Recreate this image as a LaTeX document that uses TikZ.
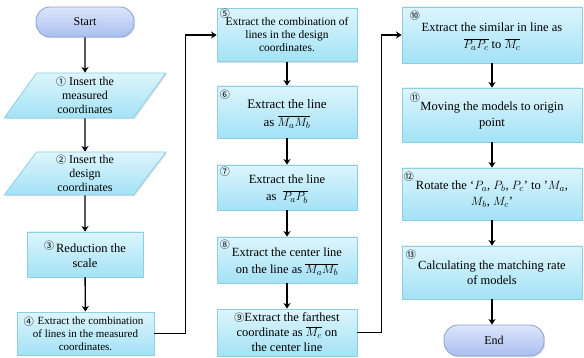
\documentclass[tikz,border=0pt]{standalone}
\usepackage{fontspec}
\setmainfont{Liberation Serif}
\newfontfamily\circfont{Noto Sans CJK JP}
\usetikzlibrary{shapes.geometric,shadows,arrows.meta}
\definecolor{boxtop}{HTML}{DDF5FC}
\definecolor{boxbot}{HTML}{A3E2F6}
\definecolor{boxline}{HTML}{8CCFE4}
\definecolor{termtop}{HTML}{DCE5FA}
\definecolor{termbot}{HTML}{AABFF0}
\definecolor{termline}{HTML}{8AA2DA}
\newcommand{\cn}[1]{{\circfont\fontsize{10}{10}\selectfont #1}}
\tikzset{
  shade/.style={drop shadow={shadow xshift=1.2pt, shadow yshift=-1.2pt, opacity=0.25}},
  procbox/.style={rectangle, draw=boxline, line width=0.8pt, top color=boxtop, bottom color=boxbot,
    shade, inner sep=0pt, align=center, font=\fontsize{12}{15}\selectfont},
  parabox/.style={trapezium, trapezium left angle=62, trapezium right angle=118, trapezium stretches=true,
    draw=boxline, line width=0.8pt, top color=boxtop, bottom color=boxbot,
    shade, inner sep=0pt, align=center, font=\fontsize{12}{14}\selectfont},
  termbox/.style={rectangle, rounded corners=14pt, draw=termline, line width=0.8pt, top color=termtop,
    bottom color=termbot, shade, inner sep=0pt, font=\fontsize{12}{13}\selectfont},
  numlbl/.style={inner sep=0pt, anchor=north west, font=\circfont\fontsize{10}{10}\selectfont},
  flow/.style={line width=1.4pt, -{Stealth[length=5.5pt,width=7pt,inset=1.5pt]}},
}
\begin{document}
\begin{tikzpicture}[x=1pt,y=-1pt]
\useasboundingbox (0,0) rectangle (584,358);

% column 1
\node[termbox, minimum width=98, minimum height=30] (start) at (85,22) {Start};
\node[parabox, minimum width=162, minimum height=45] (b1) at (85,95.5)
  {\cn{①} Insert the\\measured\\coordinates};
\node[parabox, minimum width=162, minimum height=43] (b2) at (85,173.5)
  {\cn{②} Insert the\\design\\coordinates};
\node[procbox, minimum width=116, minimum height=45, font=\fontsize{12.5}{15}\selectfont] (b3) at (85,254.5)
  {\raisebox{3pt}{\cn{③}}\,Reduction the\\scale};
\node[procbox, minimum width=137, minimum height=43, font=\fontsize{11}{13}\selectfont] (b4) at (85.5,333.5)
  {\hspace*{10pt}Extract the combination\\of lines in the measured\\coordinates.};
\node[numlbl] (n4) at ([xshift=7pt,yshift=-5pt]b4.north west) {④};

% column 2
\node[procbox, minimum width=140, minimum height=53, font=\fontsize{11.5}{13}\selectfont] (b5) at (287,35)
  {Extract the combination of\\lines in the design\\coordinates.};
\node[numlbl] (n5) at ([xshift=3pt,yshift=-1pt]b5.north west) {⑤};
\node[procbox, minimum width=140, minimum height=52, font=\fontsize{13}{18}\selectfont] (b6) at (287,112)
  {\strut Extract the line\\as $\overline{M_aM_b}$};
\node[numlbl] (n6) at ([xshift=3pt,yshift=-4pt]b6.north west) {⑥};
\node[procbox, minimum width=140, minimum height=45, font=\fontsize{12.5}{17}\selectfont] (b7) at (287,187.5)
  {\strut Extract the line\\as \ $\overline{P_aP_b}$};
\node[numlbl] (n7) at ([xshift=3pt,yshift=-2pt]b7.north west) {⑦};
\node[procbox, minimum width=140, minimum height=46, font=\fontsize{12.5}{17}\selectfont] (b8) at (287,260)
  {\strut Extract the center line\\on the line as $\overline{M_aM_b}$};
\node[numlbl] (n8) at ([xshift=3pt,yshift=-3pt]b8.north west) {⑧};
\node[procbox, minimum width=140, minimum height=47, font=\fontsize{12.5}{15}\selectfont] (b9) at (287,332.5)
  {\cn{⑨}Extract the farthest\\coordinate as $\overline{M_c}$ on\\the center line};

% column 3
\node[procbox, minimum width=180, minimum height=56, font=\fontsize{12.5}{17}\selectfont] (b10) at (492,35)
  {\strut Extract the similar in line as\\$\overline{P_aP_c}$ to $\overline{M_c}$};
\node[numlbl] (n10) at ([xshift=8pt,yshift=-4pt]b10.north west) {⑩};
\node[procbox, minimum width=180, minimum height=54, font=\fontsize{12.5}{16}\selectfont] (b11) at (492,115)
  {Moving the models to origin\\point};
\node[numlbl] (n11) at ([xshift=8pt,yshift=-5pt]b11.north west) {⑪};
\node[procbox, minimum width=180, minimum height=52, font=\fontsize{12.5}{16}\selectfont] (b12) at (492,194)
  {Rotate the ‘$P_a$, $P_b$, $P_c$’ to ’$M_a$,\\$M_b$, $M_c$’};
\node[numlbl] (n12) at ([xshift=2pt,yshift=-4pt]b12.north west) {⑫};
\node[procbox, minimum width=180, minimum height=53, font=\fontsize{12.5}{15}\selectfont] (b13) at (492,272.5)
  {Calculating the matching rate\\of models};
\node[numlbl] (n13) at ([xshift=4pt,yshift=-4pt]b13.north west) {⑬};
\node[termbox, minimum width=100, minimum height=31] (end) at (494,340.5) {End};

% connectors
\draw[flow] (start) -- (b1);
\draw[flow] (b1) -- (b2);
\draw[flow] (b2) -- (b3);
\draw[flow] (b3) -- (b4);
\draw[flow] (b4.east) -- ++(31,0) |- (b5.west);
\draw[flow] (b5) -- (b6);
\draw[flow] (b6) -- (b7);
\draw[flow] (b7) -- (b8);
\draw[flow] (b8) -- (b9);
\draw[flow] (b9.east) -- ++(24,0) |- (b10.west);
\draw[flow] (b10) -- (b11);
\draw[flow] (b11) -- (b12);
\draw[flow] (b12) -- (b13);
\draw[flow] (b13.south) -- (b13.south |- end.north);
\end{tikzpicture}
\end{document}
